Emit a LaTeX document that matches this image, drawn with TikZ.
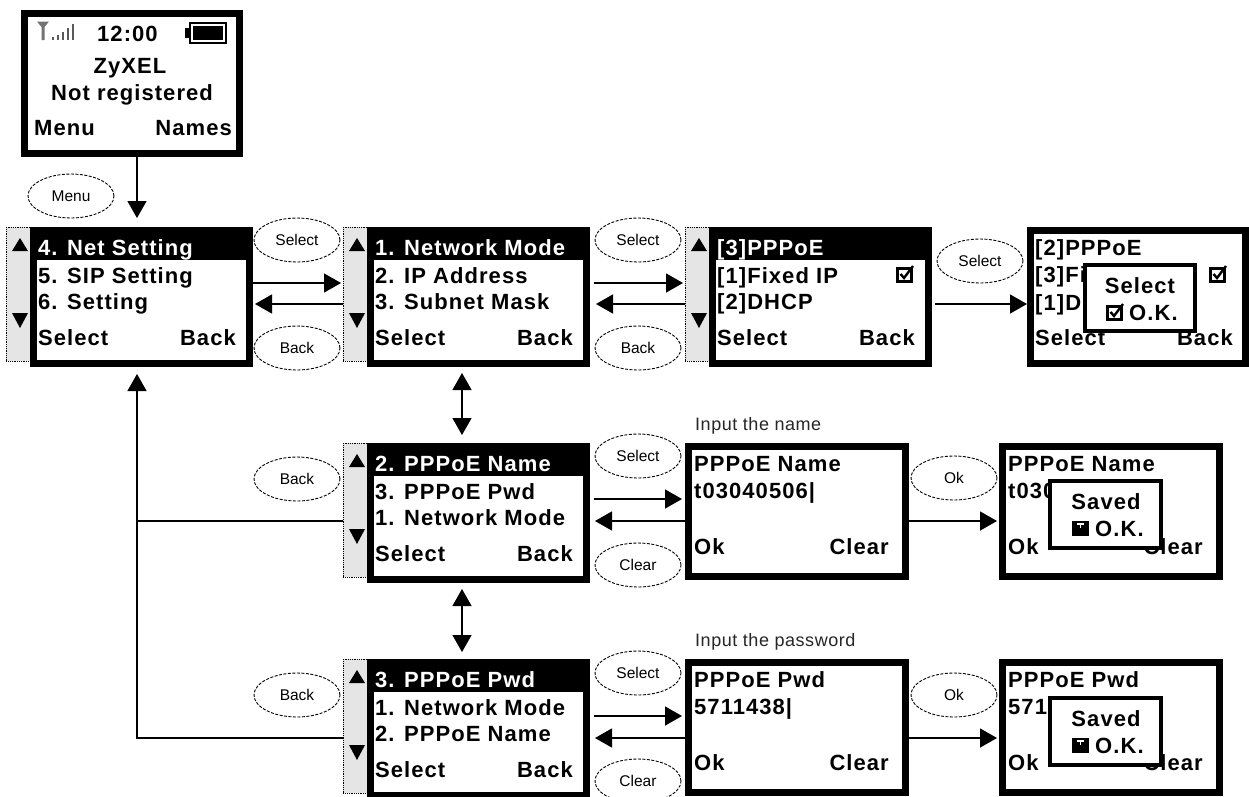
\documentclass[tikz,border=0pt]{standalone}
\usepackage{fontspec}
\setmainfont{Liberation Sans}
\newfontfamily\lcdfont[LetterSpace=4.8]{Liberation Sans Bold}
\newfontfamily\notefont[LetterSpace=3]{Liberation Sans}
\usetikzlibrary{arrows.meta,shapes.geometric}
\tikzset{
  screenbox/.style={draw=black,fill=white,line width=7pt,inner sep=0pt,rectangle,anchor=north west},
  popbox/.style={draw=black,fill=white,line width=4pt,inner sep=0pt,rectangle,anchor=north west},
  scrollbar/.style={draw=black,densely dotted,line width=.8pt,fill=black!10,inner sep=0pt,rectangle,anchor=north west,minimum width=24pt,minimum height=134pt},
  lcd/.style={font=\lcdfont\fontsize{22}{22}\selectfont,inner sep=0pt,anchor=base west},
  lcdw/.style={lcd,text=white},
  lcdr/.style={lcd,anchor=base east},
  lcdc/.style={lcd,anchor=base},
  keyoval/.style={draw=black,ellipse,dash pattern=on 3pt off 1.5pt,line width=.9pt,fill=white,minimum width=86pt,minimum height=44pt,inner sep=0pt,font=\fontsize{15.5}{15.5}\selectfont},
  note/.style={font=\notefont\fontsize{18}{18}\selectfont,inner sep=0pt,anchor=base west,text=black!85},
  arr/.style={draw=black,line width=1.3pt,-{Triangle[length=17pt,width=19pt]}},
  arrb/.style={draw=black,line width=1.3pt,{Triangle[length=17pt,width=19pt]}-{Triangle[length=17pt,width=19pt]}},
  plain/.style={draw=black,line width=1.3pt},
}
% scroll bar: name, left of box, top
\newcommand\scrollbarat[3]{%
  \node[scrollbar] (#1-bar) at (#2-24,#3) {};
  \fill[black] (#2-18,#3+24) -- (#2-2,#3+24) -- (#2-10,#3+11) -- cycle;
  \fill[black] (#2-18,#3+86) -- (#2-2,#3+86) -- (#2-10,#3+101) -- cycle;
}
% screen with highlighted first line: name,left,top,head,l2,l3
\newcommand\menuscreen[6]{%
  \scrollbarat{#1}{#2}{#3}
  \node[screenbox,minimum width=216pt,minimum height=133pt] (#1) at (#2,#3) {};
  \fill[black] (#2,#3) rectangle (#2+223,#3+33);
  \node[lcdw] (#1-h) at (#2+8,#3+28) {#4};
  \node[lcd] (#1-a) at (#2+8,#3+56) {#5};
  \node[lcd] (#1-b) at (#2+8,#3+82) {#6};
  \node[lcd] (#1-s) at (#2+8,#3+118) {Select};
  \node[lcdr] (#1-k) at (#2+206,#3+118) {Back};
}
% input screen: name,left,top,title,value
\newcommand\inputscreen[5]{%
  \node[screenbox,minimum width=217pt,minimum height=130pt] (#1) at (#2,#3) {};
  \node[lcd] (#1-h) at (#2+9,#3+28) {#4};
  \node[lcd] (#1-a) at (#2+9,#3+55) {#5};
  \node[lcd] (#1-s) at (#2+9,#3+111) {Ok};
  \node[lcdr] (#1-k) at (#2+204,#3+111) {Clear};
}
% saved popup: name,left,top
\newcommand\savedpop[3]{%
  \node[popbox,minimum width=111pt,minimum height=67pt] (#1) at (#2,#3) {};
  \node[lcdc] (#1-t) at (#2+58,#3+30) {Saved};
  \node[lcd] (#1-o) at (#2+47,#3+57) {O.K.};
  \fill[black] (#2+24,#3+42) rectangle (#2+41,#3+57);
  \fill[white] (#2+29,#3+44) rectangle (#2+36,#3+46);
  \fill[white] (#2+32,#3+46) rectangle (#2+33,#3+49);
}
% checked box: left, top
\newcommand\checkbox[2]{%
  \draw[black,line width=3pt] (#1+1.5,#2+3) rectangle (#1+15,#2+16);
  \draw[black,line width=2.4pt] (#1+4.5,#2+9) -- (#1+8,#2+13) -- (#1+17,#2+1);
}
\begin{document}
\begin{tikzpicture}[x=1pt,y=-1pt]
\fill[white] (0,0) rectangle (1249,796);
\clip (0,0) rectangle (1249,796);
\useasboundingbox (0,0) rectangle (1249,796);

% top idle screen
\node[screenbox,minimum width=215pt,minimum height=140pt] (idle) at (21,10) {};
\node[lcd] (idle-time) at (97,41) {12:00};
\node[lcdc] (idle-name) at (130,73) {ZyXEL};
\node[lcdc] (idle-status) at (132,100) {Not registered};
\node[lcd] (idle-s) at (34,135) {Menu};
\node[lcdr] (idle-k) at (232,135) {Names};
% signal icon
\fill[black!55] (37,21.5) -- (49,21.5) -- (44.5,27) -- (44.5,40) -- (41.5,40) -- (41.5,27) -- cycle;
\foreach \i/\h in {0/3,1/5,2/8,3/12,4/16}{\fill[black!65] (52+\i*5,39.5-\h) rectangle (53.6+\i*5,39.5);}
% battery icon
\fill[black] (185,28) rectangle (190,38);
\draw[black,line width=2pt] (190,23) rectangle (226,43);
\fill[black] (193,26) rectangle (223,40);

% menu screens
\menuscreen{net}{30}{227}{4. Net Setting}{5. SIP Setting}{6. Setting}
\menuscreen{mode}{367}{227}{1. Network Mode}{2. IP Address}{3. Subnet Mask}
\menuscreen{type}{709}{227}{[3]PPPoE}{[1]Fixed IP}{[2]DHCP}
\checkbox{896}{265}
\menuscreen{name}{367}{443}{2. PPPoE Name}{3. PPPoE Pwd}{1. Network Mode}
\menuscreen{pwd}{367}{659}{3. PPPoE Pwd}{1. Network Mode}{2. PPPoE Name}

% selected-type screen
\node[screenbox,minimum width=215pt,minimum height=133pt] (done) at (1027,227) {};
\node[lcd] (done-h) at (1035,255) {[2]PPPoE};
\node[lcd] (done-a) at (1035,282) {[3]Fi};
\node[lcd] (done-b) at (1035,310) {[1]D};
\node[lcd] (done-s) at (1035,345) {Select};
\node[lcdr] (done-k) at (1233,345) {Back};
\checkbox{1209}{265}
\node[popbox,minimum width=110pt,minimum height=66pt] (donepop) at (1083,263) {};
\node[lcdc] (donepop-t) at (1140,293) {Select};
\node[lcd] (donepop-o) at (1129,320) {O.K.};
\checkbox{1106}{303}

% input screens
\inputscreen{nin}{685}{443}{PPPoE Name}{t03040506|}
\inputscreen{pin}{685}{659}{PPPoE Pwd}{5711438|}
\inputscreen{nsv}{999}{443}{PPPoE Name}{t030}
\savedpop{nsvpop}{1048}{479}
\inputscreen{psv}{999}{659}{PPPoE Pwd}{5711}
\savedpop{psvpop}{1048}{696}

% notes
\node[note] (note-name) at (695,430) {Input the name};
\node[note] (note-pwd) at (695,646) {Input the password};

% key ovals
\node[keyoval] (k-menu) at (71,196) {Menu};
\node[keyoval] (k-sel1) at (297,240) {Select};
\node[keyoval] (k-back1) at (297,348) {Back};
\node[keyoval] (k-sel2) at (638,240) {Select};
\node[keyoval] (k-back2) at (638,348) {Back};
\node[keyoval] (k-sel3) at (980,261) {Select};
\node[keyoval] (k-back3) at (297,479) {Back};
\node[keyoval] (k-sel4) at (638,456) {Select};
\node[keyoval] (k-clr1) at (638,565) {Clear};
\node[keyoval] (k-ok1) at (954,478) {Ok};
\node[keyoval] (k-back4) at (297,695) {Back};
\node[keyoval] (k-sel5) at (638,673) {Select};
\node[keyoval] (k-clr2) at (638,781) {Clear};
\node[keyoval] (k-ok2) at (954,695) {Ok};

% connectors
\coordinate (top-elbow) at (137,738);
\coordinate (idle-end) at (137,218);
\draw[arr] (idle.south -| idle-end) -- (idle-end);
\draw[arr] (net.east |- 0,283) -- ([xshift=-2pt]mode-bar.west |- 0,283);
\draw[arr] (mode-bar.west |- 0,304) -- ([xshift=2pt]net.east |- 0,304);
\draw[arr] ([xshift=4pt]mode.east |- 0,283) -- ([xshift=-2pt]type-bar.west |- 0,283);
\draw[arr] (type-bar.west |- 0,304) -- ([xshift=6pt]mode.east |- 0,304);
\draw[arr] ([xshift=3pt]type.east |- 0,304) -- (done.west |- 0,304);
\draw[arrb] ([yshift=-6pt]mode.south -| 462,0) -- ([yshift=8pt]name.north -| 462,0);
\draw[arrb] ([yshift=-6pt]name.south -| 462,0) -- ([yshift=7pt]pwd.north -| 462,0);
\draw[arr] ([xshift=4pt]name.east |- 0,499) -- ([xshift=-3pt]nin.west |- 0,499);
\draw[arr] (nin.west |- 0,521) -- ([xshift=5pt]name.east |- 0,521);
\draw[arr] (nin.east |- 0,521) -- ([xshift=-2pt]nsv.west |- 0,521);
\draw[arr] ([xshift=4pt]pwd.east |- 0,716) -- ([xshift=-3pt]pin.west |- 0,716);
\draw[arr] (pin.west |- 0,738) -- ([xshift=5pt]pwd.east |- 0,738);
\draw[arr] (pin.east |- 0,738) -- ([xshift=-2pt]psv.west |- 0,738);
\draw[plain] (name-bar.west |- 0,521) -- (137,521);
\draw[arr] (pwd-bar.west |- 0,738) -- (top-elbow) -- ([yshift=-7pt]net.south -| 137,0);
\end{tikzpicture}
\end{document}
